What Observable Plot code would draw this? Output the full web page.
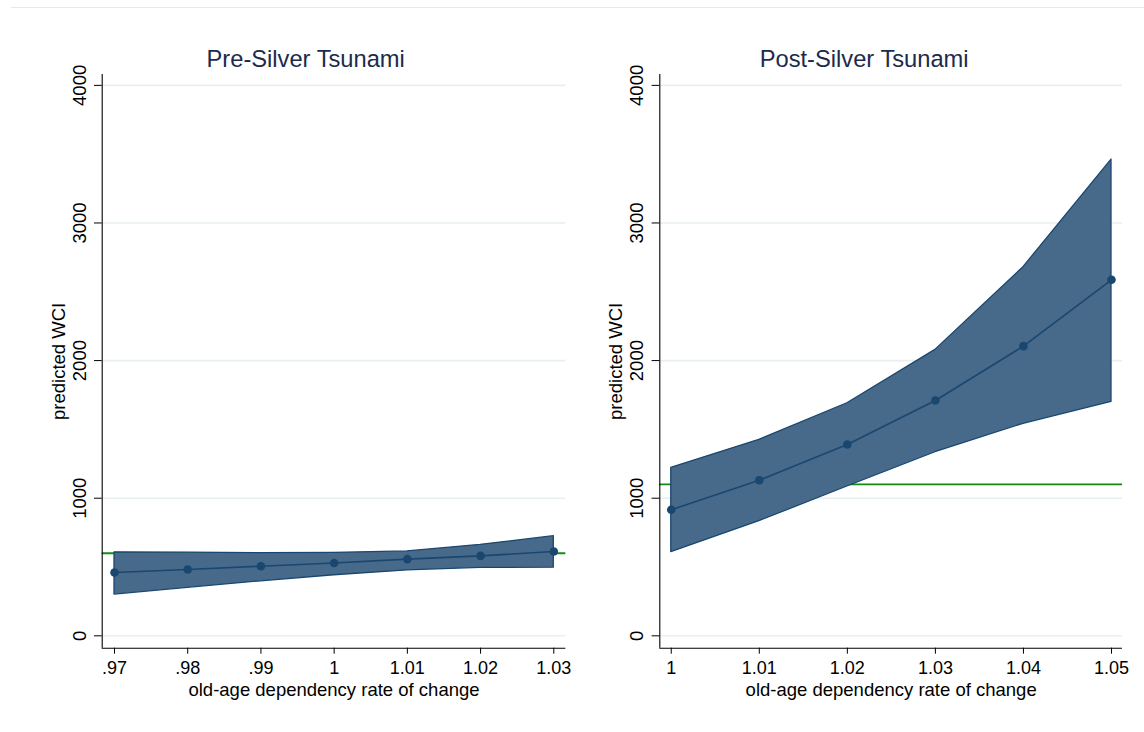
<!DOCTYPE html>
<html>
<head>
<meta charset="utf-8">
<script src="https://cdn.jsdelivr.net/npm/d3@7"></script>
<script src="https://cdn.jsdelivr.net/npm/@observablehq/plot@0.6"></script>
<style>
  html, body { margin: 0; padding: 0; background: #fff; }
  #wrap { position: relative; width: 1144px; height: 732px; overflow: hidden; background: #fff; }
  #topline { position: absolute; left: 11px; right: 0; top: 7px; height: 0; border-top: 1px solid #e3ecec; }
  .panel { position: absolute; top: 0; }
</style>
</head>
<body>
<div id="wrap">
  <div id="topline"></div>
  <div id="left" class="panel" style="left:0px"></div>
  <div id="right" class="panel" style="left:572px"></div>
</div>
<script>
// ---- data ----
const preTitle = "Pre-Silver Tsunami";
const postTitle = "Post-Silver Tsunami";
const xTitle = "old-age dependency rate of change";
const yTitle = "predicted WCI";

const yTicks = [0, 1000, 2000, 3000, 4000];
const yTickLabels = ["0", "1000", "2000", "3000", "4000"];

const preX = [0.97, 0.98, 0.99, 1.00, 1.01, 1.02, 1.03];
const preXLabels = [".97", ".98", ".99", "1", "1.01", "1.02", "1.03"];
const preFit = [460, 482, 506, 529, 557, 581, 613];
const preLo  = [300, 349, 396, 440, 475, 494, 495];
const preHi  = [607, 604, 601, 603, 613, 661, 724];
const preRef = [600];

const postX = [1.00, 1.01, 1.02, 1.03, 1.04, 1.05];
const postXLabels = ["1", "1.01", "1.02", "1.03", "1.04", "1.05"];
const postFit = [916, 1131, 1390, 1710, 2105, 2587];
const postLo  = [608, 833, 1085, 1334, 1541, 1700];
const postHi  = [1221, 1424, 1690, 2078, 2679, 3461];
const postRef = [1100];

// ---- styling ----
const NAVY = "#1a476f";
const FILL = "#476a8b";
const GRID = "#e7eff2";
const GREEN = "#138a13";
const TITLE = "#1c2b4d";
const FONT = "'Liberation Sans', Arial, Helvetica, sans-serif";

const yLabelMap = new Map(yTicks.map((v, i) => [v, yTickLabels[i]]));

function panel({xs, labels, fit, lo, hi, ref, title, xDomain, marginLeft, marginRight, titleDx}) {
  const data = xs.map((x, i) => ({x, fit: fit[i], lo: lo[i], hi: hi[i]}));
  const labelMap = new Map(xs.map((x, i) => [x.toFixed(2), labels[i]]));
  const yMin = -90, yMax = 4079;
  return Plot.plot({
    width: 572,
    height: 732,
    marginTop: 74,
    marginBottom: 84.3,
    marginLeft,
    marginRight,
    style: {fontFamily: FONT, fontSize: "18.5px", color: "#000", background: "transparent", overflow: "visible"},
    x: {domain: xDomain},
    y: {domain: [yMin, yMax]},
    marks: [
      Plot.gridY(yTicks, {stroke: GRID, strokeOpacity: 1, strokeWidth: 1.6}),
      Plot.ruleY(ref, {stroke: GREEN, strokeWidth: 1.8}),
      Plot.areaY(data, {x: "x", y1: "lo", y2: "hi", fill: FILL, stroke: NAVY, strokeWidth: 1.3, curve: "linear"}),
      Plot.line(data, {x: "x", y: "fit", stroke: NAVY, strokeWidth: 1.6}),
      Plot.dot(data, {x: "x", y: "fit", r: 4.3, fill: NAVY, stroke: "none"}),
      Plot.ruleX([xDomain[0]], {stroke: "#000", strokeWidth: 1.1}),
      Plot.ruleY([yMin], {stroke: "#000", strokeWidth: 1.1}),
      Plot.axisY({ticks: yTicks, tickSize: 7.7, tickPadding: 9, tickRotate: -90, label: null, fontSize: 18.5,
                  tickFormat: d => yLabelMap.get(+d)}),
      Plot.axisX({ticks: xs, tickSize: 6, tickPadding: 7.5, label: null, fontSize: 18,
                  tickFormat: d => labelMap.get((+d).toFixed(2))}),
      Plot.text([yTitle], {frameAnchor: "left", rotate: -90, lineAnchor: "bottom", textAnchor: "middle", dx: -37.5, fontSize: 18.5, fill: "#000"}),
      Plot.text([xTitle], {frameAnchor: "bottom", lineAnchor: "bottom", textAnchor: "middle", dy: 47.5, fontSize: 18.5, fill: "#000"}),
      Plot.text([title], {frameAnchor: "top", lineAnchor: "bottom", textAnchor: "middle", dy: -8, dx: titleDx, fontSize: 23.7, fill: TITLE})
    ]
  });
}

document.getElementById("left").append(panel({
  xs: preX, labels: preXLabels, fit: preFit, lo: preLo, hi: preHi, ref: preRef,
  title: preTitle, xDomain: [0.96832, 1.03164], marginLeft: 101.7, marginRight: 6.7, titleDx: -28.3
}));
document.getElementById("right").append(panel({
  xs: postX, labels: postXLabels, fit: postFit, lo: postLo, hi: postHi, ref: postRef,
  title: postTitle, xDomain: [0.99870, 1.05125], marginLeft: 87.3, marginRight: 22, titleDx: -27
}));
</script>
</body>
</html>
